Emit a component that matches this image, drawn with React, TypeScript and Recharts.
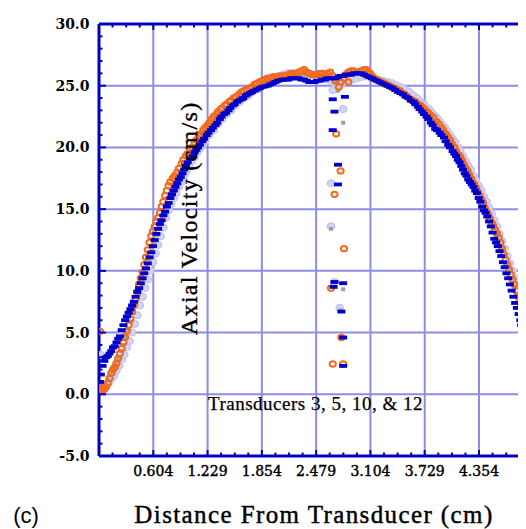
import React from 'react';
import { ScatterChart, Scatter, XAxis, YAxis, CartesianGrid } from 'recharts';

// Axial velocity (cm/s) against distance from transducer (cm), one list per transducer
const blueSeries: [number, number][] = [
  [-0.01, 1.0], [0.00, 1.6], [0.02, 2.3], [0.04, 2.7], [0.06, 3.0], [0.08, 3.1], [0.10, 3.3], [0.12, 3.5],
  [0.14, 3.8], [0.16, 3.9], [0.18, 4.2], [0.20, 4.5], [0.22, 4.7], [0.24, 5.2], [0.26, 5.6], [0.28, 6.0],
  [0.30, 6.3], [0.32, 6.6], [0.34, 6.9], [0.36, 7.2], [0.38, 7.5], [0.40, 7.9], [0.42, 8.3], [0.44, 8.6],
  [0.46, 9.0], [0.48, 9.4], [0.50, 9.8], [0.52, 10.2], [0.54, 10.6], [0.56, 11.1], [0.58, 11.5], [0.60, 12.0],
  [0.62, 12.5], [0.64, 13.0], [0.66, 13.4], [0.68, 13.8], [0.70, 14.1], [0.72, 14.5], [0.74, 14.8], [0.76, 15.2],
  [0.78, 15.5], [0.80, 15.9], [0.82, 16.2], [0.84, 16.5], [0.86, 16.8], [0.88, 17.1], [0.90, 17.4], [0.92, 17.6],
  [0.94, 17.9], [0.96, 18.2], [0.98, 18.5], [1.00, 18.8], [1.03, 19.1], [1.06, 19.3], [1.08, 19.6], [1.10, 19.8],
  [1.12, 20.0], [1.14, 20.2], [1.17, 20.5], [1.19, 20.7], [1.22, 21.0], [1.24, 21.2], [1.27, 21.4], [1.29, 21.6],
  [1.32, 21.8], [1.34, 22.0], [1.37, 22.3], [1.39, 22.5], [1.42, 22.7], [1.44, 22.8], [1.47, 23.0], [1.49, 23.2],
  [1.52, 23.4], [1.54, 23.5], [1.57, 23.7], [1.59, 23.8], [1.62, 23.9], [1.64, 24.0], [1.67, 24.2], [1.69, 24.3],
  [1.72, 24.4], [1.74, 24.5], [1.77, 24.6], [1.80, 24.7], [1.83, 24.8], [1.86, 24.9], [1.89, 24.95], [1.92, 25.0],
  [1.95, 25.1], [1.98, 25.2], [2.01, 25.3], [2.04, 25.4], [2.07, 25.45], [2.10, 25.5], [2.13, 25.5], [2.16, 25.5],
  [2.19, 25.6], [2.22, 25.6], [2.25, 25.6], [2.28, 25.6], [2.31, 25.5], [2.34, 25.5], [2.37, 25.4], [2.40, 25.3],
  [2.43, 25.3], [2.46, 25.3], [2.49, 25.4], [2.52, 25.4], [2.55, 25.5], [2.58, 25.5], [2.61, 25.6], [2.64, 25.6],
  [2.67, 25.6], [2.70, 25.6], [2.73, 25.7], [2.76, 25.8], [2.79, 25.8], [2.82, 25.9], [2.85, 25.9], [2.88, 25.9],
  [2.91, 26.0], [2.94, 26.0], [2.97, 26.0], [3.00, 26.0], [3.03, 25.9], [3.06, 25.8], [3.09, 25.7], [3.12, 25.6],
  [3.15, 25.5], [3.18, 25.4], [3.21, 25.3], [3.24, 25.2], [3.27, 25.1], [3.30, 25.0], [3.33, 24.9], [3.36, 24.8],
  [3.39, 24.65], [3.42, 24.5], [3.45, 24.4], [3.48, 24.3], [3.51, 24.1], [3.54, 24.0], [3.57, 23.8], [3.60, 23.7],
  [3.62, 23.5], [3.65, 23.3], [3.67, 23.1], [3.70, 22.9], [3.72, 22.7], [3.75, 22.5], [3.77, 22.3], [3.80, 22.0],
  [3.82, 21.8], [3.85, 21.5], [3.87, 21.4], [3.90, 21.2], [3.92, 21.0], [3.95, 20.8], [3.97, 20.5], [4.00, 20.2],
  [4.02, 20.0], [4.05, 19.7], [4.07, 19.5], [4.09, 19.3], [4.11, 19.0], [4.13, 18.8], [4.15, 18.5], [4.17, 18.2],
  [4.19, 17.9], [4.21, 17.7], [4.23, 17.4], [4.25, 17.2], [4.27, 17.0], [4.29, 16.8], [4.31, 16.5], [4.33, 16.3],
  [4.35, 15.9], [4.37, 15.6], [4.39, 15.2], [4.41, 14.9], [4.43, 14.7], [4.45, 14.4], [4.47, 14.0], [4.49, 13.6],
  [4.51, 13.1], [4.53, 12.6], [4.55, 12.3], [4.57, 12.0], [4.59, 11.6], [4.61, 11.2], [4.63, 10.7], [4.65, 10.3],
  [4.67, 9.8], [4.69, 9.4], [4.71, 8.9], [4.73, 8.4], [4.75, 7.9], [4.77, 7.4], [4.79, 7.0], [4.81, 6.5],
  [4.83, 6.0], [4.84, 5.6], [4.86, 5.2], [4.87, 4.9], [4.88, 4.4], [4.89, 3.9],
  // stray readings
  [2.67, 23.9], [2.81, 24.1], [2.69, 22.9], [2.67, 21.4], [2.73, 18.6], [2.73, 17.0], [2.69, 9.1], [2.79, 9.0],
  [2.68, 8.7], [2.77, 6.7], [2.79, 4.6], [2.79, 2.3], [4.89, -3.1],
];

const orangeSeries: [number, number][] = [
  [-0.01, 0.6], [0.00, 0.4], [0.02, 0.3], [0.04, 0.4], [0.06, 0.6], [0.08, 0.9], [0.10, 1.3], [0.12, 1.7],
  [0.14, 2.0], [0.16, 2.2], [0.18, 2.5], [0.20, 2.9], [0.22, 3.3], [0.24, 3.7], [0.26, 4.2], [0.28, 4.6],
  [0.30, 5.1], [0.32, 5.6], [0.34, 6.1], [0.36, 6.7], [0.38, 7.2], [0.40, 7.7], [0.42, 8.3], [0.44, 8.9],
  [0.46, 9.4], [0.48, 9.9], [0.50, 10.5], [0.52, 11.1], [0.54, 11.7], [0.56, 12.3], [0.58, 12.8], [0.60, 13.2],
  [0.62, 13.6], [0.64, 14.0], [0.66, 14.3], [0.68, 14.7], [0.70, 15.2], [0.72, 15.6], [0.74, 16.1], [0.76, 16.5],
  [0.78, 16.9], [0.80, 17.2], [0.83, 17.5], [0.85, 17.7], [0.88, 18.0], [0.90, 18.3], [0.93, 18.7], [0.95, 19.0],
  [0.98, 19.3], [1.00, 19.5], [1.03, 19.8], [1.05, 20.0], [1.08, 20.4], [1.10, 20.6], [1.13, 20.9], [1.15, 21.1],
  [1.18, 21.4], [1.20, 21.6], [1.23, 21.8], [1.25, 22.0], [1.28, 22.3], [1.30, 22.5], [1.33, 22.7], [1.35, 22.9],
  [1.38, 23.1], [1.40, 23.2], [1.43, 23.4], [1.45, 23.5], [1.48, 23.7], [1.50, 23.8], [1.53, 24.0], [1.56, 24.1],
  [1.59, 24.3], [1.62, 24.5], [1.65, 24.6], [1.68, 24.7], [1.71, 24.8], [1.74, 24.9], [1.77, 25.1], [1.80, 25.2],
  [1.83, 25.3], [1.86, 25.4], [1.89, 25.5], [1.92, 25.6], [1.95, 25.6], [1.98, 25.7], [2.01, 25.7], [2.04, 25.7],
  [2.07, 25.8], [2.10, 25.8], [2.13, 25.8], [2.16, 25.9], [2.19, 26.0], [2.22, 26.0], [2.25, 26.0], [2.28, 26.1],
  [2.31, 26.2], [2.34, 26.3], [2.37, 26.1], [2.40, 26.0], [2.43, 25.9], [2.46, 25.9], [2.49, 25.9], [2.52, 26.0],
  [2.55, 26.0], [2.58, 25.9], [2.61, 26.0], [2.64, 26.1], [2.67, 25.8], [2.70, 25.4], [2.76, 25.3], [2.80, 25.6],
  [2.82, 25.9], [2.85, 26.1], [2.88, 26.2], [2.91, 26.2], [2.94, 26.1], [2.97, 26.1], [3.00, 26.2], [3.03, 26.3],
  [3.06, 26.3], [3.08, 26.1], [3.10, 26.0], [3.12, 25.8], [3.14, 25.6], [3.17, 25.5], [3.20, 25.4], [3.23, 25.3],
  [3.26, 25.2], [3.29, 25.1], [3.32, 25.0], [3.35, 24.9], [3.38, 24.8], [3.41, 24.7], [3.44, 24.6], [3.47, 24.4],
  [3.50, 24.3], [3.53, 24.1], [3.56, 23.9], [3.59, 23.8], [3.62, 23.7], [3.65, 23.5], [3.68, 23.4], [3.71, 23.2],
  [3.74, 23.0], [3.77, 22.8], [3.80, 22.6], [3.83, 22.4], [3.86, 22.1], [3.89, 21.9], [3.92, 21.6], [3.94, 21.4],
  [3.97, 21.1], [3.99, 20.9], [4.02, 20.6], [4.04, 20.3], [4.07, 20.0], [4.09, 19.7], [4.12, 19.4], [4.14, 19.2],
  [4.16, 18.9], [4.18, 18.6], [4.20, 18.3], [4.22, 18.1], [4.24, 17.8], [4.26, 17.5], [4.28, 17.2], [4.30, 17.0],
  [4.32, 16.7], [4.34, 16.4], [4.36, 16.1], [4.38, 15.8], [4.40, 15.5], [4.42, 15.1], [4.44, 14.8], [4.46, 14.5],
  [4.48, 14.2], [4.50, 13.9], [4.52, 13.6], [4.54, 13.3], [4.56, 13.0], [4.58, 12.7], [4.60, 12.3], [4.62, 11.8],
  [4.64, 11.3], [4.66, 10.9], [4.68, 10.5], [4.70, 10.1], [4.72, 9.7], [4.74, 9.3], [4.76, 8.9], [4.78, 8.4],
  [4.80, 8.0], [4.82, 7.6], [4.84, 7.2], [4.86, 6.8], [4.87, 6.4], [4.88, 5.6], [4.89, 4.7],
  // stray readings
  [-0.01, 5.1], [2.71, 21.1], [2.76, 18.1], [2.69, 16.2], [2.80, 11.8], [2.65, 8.6], [2.77, 4.6], [2.67, 2.45],
  [2.79, 2.45], [4.89, -2.35], [2.74, 24.9], [2.85, 25.3],
];

const graySeries: [number, number][] = [
  [0.02, 0.8], [0.05, 0.9], [0.08, 1.2], [0.11, 1.6], [0.14, 2.1], [0.17, 2.5], [0.20, 2.9], [0.23, 3.5],
  [0.26, 4.0], [0.29, 4.6], [0.32, 5.2], [0.35, 5.9], [0.38, 6.6], [0.41, 7.4], [0.44, 8.1], [0.47, 8.7],
  [0.50, 9.4], [0.53, 10.2], [0.56, 10.9], [0.59, 11.6], [0.62, 12.2], [0.65, 12.9], [0.68, 13.6], [0.71, 14.2],
  [0.74, 14.8], [0.77, 15.4], [0.80, 15.9], [0.83, 16.4], [0.86, 16.9], [0.89, 17.3], [0.92, 17.8], [0.95, 18.1],
  [0.98, 18.5], [1.01, 18.9], [1.04, 19.2], [1.08, 19.7], [1.11, 20.1], [1.14, 20.4], [1.17, 20.7], [1.20, 21.0],
  [1.25, 21.4], [1.30, 21.8], [1.35, 22.2], [1.40, 22.6], [1.45, 23.0], [1.50, 23.3], [1.55, 23.6], [1.60, 23.9],
  [1.65, 24.2], [1.70, 24.4], [1.75, 24.6], [1.80, 24.9], [1.85, 25.1], [1.90, 25.3], [1.95, 25.4], [2.00, 25.5],
  [2.05, 25.6], [2.10, 25.8], [2.15, 25.9], [2.20, 25.9], [2.25, 25.9], [2.30, 25.9], [2.35, 25.9], [2.40, 25.9],
  [2.45, 25.9], [2.50, 25.8], [2.55, 25.8], [2.60, 25.9], [2.65, 25.9], [2.70, 25.3], [2.75, 25.5], [2.80, 25.8],
  [2.85, 25.9], [2.90, 25.9], [2.95, 26.0], [3.00, 26.0], [3.05, 25.9], [3.10, 25.8], [3.15, 25.6], [3.20, 25.5],
  [3.25, 25.3], [3.30, 25.1], [3.35, 24.9], [3.40, 24.75], [3.45, 24.6], [3.50, 24.3], [3.55, 24.0], [3.60, 23.8],
  [3.64, 23.5], [3.68, 23.3], [3.72, 23.0], [3.75, 22.7], [3.78, 22.6], [3.81, 22.4], [3.84, 22.2], [3.87, 21.9],
  [3.90, 21.7], [3.93, 21.4], [3.96, 21.1], [3.99, 20.9], [4.02, 20.6], [4.05, 20.3], [4.08, 19.9], [4.11, 19.6],
  [4.14, 19.2], [4.17, 18.8], [4.20, 18.4], [4.23, 18.0], [4.26, 17.6], [4.29, 17.2], [4.32, 16.8], [4.35, 16.3],
  [4.38, 15.9], [4.41, 15.5], [4.44, 15.0], [4.47, 14.5], [4.50, 14.0], [4.53, 13.6], [4.56, 13.0], [4.59, 12.4],
  [4.62, 11.8], [4.65, 11.2], [4.68, 10.6], [4.71, 10.0], [4.74, 9.4], [4.77, 8.7], [4.80, 8.1], [4.83, 7.3],
  [4.86, 6.6], [4.88, 6.0], [4.89, 5.5],
  // stray readings
  [2.79, 22.0], [2.65, 13.4], [2.79, 8.5], [2.76, 6.8], [2.73, 24.6],
];

const lavenderSeries: [number, number][] = [
  [0.00, 3.2], [0.03, 0.5], [0.06, 0.6], [0.09, 0.9], [0.12, 1.2], [0.15, 1.5], [0.18, 1.9], [0.21, 2.3],
  [0.24, 2.8], [0.27, 3.2], [0.30, 3.8], [0.33, 4.3], [0.36, 5.0], [0.39, 5.7], [0.42, 6.4], [0.45, 7.2],
  [0.48, 7.9], [0.51, 8.6], [0.54, 9.3], [0.57, 10.0], [0.60, 10.7], [0.63, 11.4], [0.66, 12.1], [0.69, 12.8],
  [0.72, 13.5], [0.75, 14.3], [0.78, 14.9], [0.81, 15.4], [0.84, 15.9], [0.87, 16.3], [0.90, 16.8], [0.93, 17.2],
  [0.96, 17.7], [0.99, 18.1], [1.02, 18.5], [1.05, 18.9], [1.08, 19.2], [1.11, 19.6], [1.14, 19.9], [1.17, 20.2],
  [1.20, 20.5], [1.25, 21.0], [1.30, 21.4], [1.35, 21.9], [1.40, 22.3], [1.45, 22.7], [1.50, 23.0], [1.55, 23.4],
  [1.60, 23.7], [1.65, 24.0], [1.70, 24.2], [1.75, 24.5], [1.80, 24.7], [1.85, 25.0], [1.90, 25.2], [1.95, 25.4],
  [2.00, 25.7], [2.05, 25.8], [2.10, 25.9], [2.15, 26.0], [2.20, 26.0], [2.25, 26.0], [2.30, 26.0], [2.35, 25.9],
  [2.40, 25.9], [2.45, 25.8], [2.50, 25.7], [2.55, 25.6], [2.60, 25.5], [2.65, 25.4], [2.70, 24.9], [2.75, 25.1],
  [2.80, 25.3], [2.85, 25.5], [2.90, 25.5], [2.95, 25.6], [3.00, 25.7], [3.05, 25.8], [3.10, 25.7], [3.15, 25.6],
  [3.20, 25.5], [3.25, 25.4], [3.30, 25.3], [3.35, 25.2], [3.40, 25.05], [3.45, 24.9], [3.50, 24.7], [3.55, 24.5],
  [3.60, 24.2], [3.64, 24.0], [3.68, 23.7], [3.72, 23.5], [3.75, 23.2], [3.78, 23.1], [3.81, 22.8], [3.84, 22.6],
  [3.87, 22.4], [3.90, 22.1], [3.93, 21.8], [3.96, 21.6], [3.99, 21.3], [4.02, 21.0], [4.05, 20.7], [4.08, 20.4],
  [4.11, 20.0], [4.14, 19.7], [4.17, 19.3], [4.20, 18.9], [4.23, 18.5], [4.26, 18.2], [4.29, 17.7], [4.32, 17.3],
  [4.35, 16.9], [4.38, 16.5], [4.41, 16.0], [4.44, 15.6], [4.47, 15.1], [4.50, 14.6], [4.53, 14.1], [4.56, 13.6],
  [4.59, 13.0], [4.62, 12.4], [4.65, 11.8], [4.68, 11.2], [4.71, 10.6], [4.74, 10.0], [4.77, 9.4], [4.80, 8.8],
  [4.83, 8.0], [4.86, 7.3], [4.88, 6.8], [4.89, 6.2],
  // stray readings
  [2.79, 23.1], [2.65, 17.1], [2.65, 13.6], [2.69, 9.1], [2.75, 7.0], [4.89, -0.9], [2.67, 24.65],
];

const xMajorTicks = [0.604, 1.229, 1.854, 2.479, 3.104, 3.729, 4.354];
const xMinorTicks = [
  0.135, 0.292, 0.448, 0.760, 0.917, 1.073, 1.385, 1.542, 1.698, 2.010, 2.167, 2.323,
  2.635, 2.792, 2.948, 3.260, 3.417, 3.573, 3.885, 4.042, 4.198, 4.510, 4.667, 4.823,
];
const yMajorTicks = [-5, 0, 5, 10, 15, 20, 25, 30];
const yMinorTicks = [
  -4, -3, -2, -1, 1, 2, 3, 4, 6, 7, 8, 9, 11, 12, 13, 14, 16, 17, 18, 19, 21, 22, 23, 24, 26, 27, 28, 29,
];

const AXIS_BLUE = '#0000c0';
const GRID_BLUE = '#8c8ce8';
const SERIF = '"Liberation Serif", "Times New Roman", serif';
const TICK_SERIF = '"DejaVu Serif", serif';

const toPoints = (list: [number, number][]) => list.map(([x, y]) => ({ x, y }));

const BottomTick = (props: any) => {
  const { x, y, payload } = props;
  const major = xMajorTicks.includes(payload.value);
  return (
    <g>
      <line x1={x} x2={x} y1={y} y2={y - (major ? 6 : 3.5)} stroke={AXIS_BLUE} strokeWidth={2} />
      {major && (
        <text x={x} y={y + 19.5} textAnchor="middle" fontFamily={TICK_SERIF} fontSize={14}
          fill="#000" stroke="#000" strokeWidth={0.45}>
          {payload.value.toFixed(3)}
        </text>
      )}
    </g>
  );
};

const TopTick = (props: any) => {
  const { x, y, payload } = props;
  const major = xMajorTicks.includes(payload.value);
  return <line x1={x} x2={x} y1={y} y2={y + (major ? 6 : 3.5)} stroke={AXIS_BLUE} strokeWidth={2} />;
};

const LeftTick = (props: any) => {
  const { x, y, payload } = props;
  const major = yMajorTicks.includes(payload.value);
  return (
    <g>
      <line x1={x} x2={x + (major ? 7 : 3.5)} y1={y} y2={y} stroke={AXIS_BLUE} strokeWidth={2} />
      {major && (
        <text x={x - 9.5} y={y + 5} textAnchor="end" fontFamily={TICK_SERIF} fontWeight="bold" fontSize={14} fill="#000">
          {payload.value.toFixed(1)}
        </text>
      )}
    </g>
  );
};

const BlueDash = (p: any) => <rect x={p.cx - 4} y={p.cy - 1.9} width={8} height={3.8} fill="#0000cc" />;
const OrangeRing = (p: any) => (
  <ellipse cx={p.cx} cy={p.cy} rx={3.1} ry={2.7} fill="none" stroke="#f26b1d" strokeWidth={2} />
);
const GraySquare = (p: any) => <rect x={p.cx - 2} y={p.cy - 2} width={4} height={4} fill="#a0a0a0" />;
const LavenderDot = (p: any) => (
  <ellipse cx={p.cx} cy={p.cy} rx={3.6} ry={3.3} fill="#d4d4f5" stroke="#c4c4f0" strokeWidth={1.5} />
);

const App: React.FC = () => {
  const xTicks = [...xMajorTicks, ...xMinorTicks].sort((a, b) => a - b);
  const yTicks = [...yMajorTicks, ...yMinorTicks].sort((a, b) => a - b);
  const xDomain: [number, number] = [-0.021, 4.895];

  return (
    <div style={{ position: 'relative', width: 518, height: 521, overflow: 'hidden' }}>
      <style>{'html, body { overflow: hidden; }'}</style>
      <ScatterChart width={518} height={480} margin={{ top: 6, right: 0, bottom: 0, left: 0 }}>
        <CartesianGrid
          stroke={GRID_BLUE}
          strokeWidth={2}
          verticalValues={xMajorTicks}
          horizontalValues={yMajorTicks}
        />
        <XAxis
          xAxisId="top"
          orientation="top"
          type="number"
          dataKey="x"
          domain={xDomain}
          allowDataOverflow
          ticks={xTicks}
          interval={0}
          height={10}
          tickSize={0}
          tickMargin={0}
          tickLine={false}
          axisLine={{ stroke: AXIS_BLUE, strokeWidth: 3 }}
          tick={(p: any) => <TopTick {...p} />}
        />
        <XAxis
          type="number"
          dataKey="x"
          domain={xDomain}
          allowDataOverflow
          ticks={xTicks}
          interval={0}
          height={32}
          tickSize={0}
          tickMargin={0}
          tickLine={false}
          axisLine={{ stroke: AXIS_BLUE, strokeWidth: 3 }}
          tick={(p: any) => <BottomTick {...p} />}
        />
        <YAxis
          type="number"
          dataKey="y"
          domain={[-5, 30]}
          allowDataOverflow
          ticks={yTicks}
          interval={0}
          width={91}
          tickSize={0}
          tickMargin={0}
          tickLine={false}
          axisLine={{ stroke: AXIS_BLUE, strokeWidth: 3 }}
          tick={(p: any) => <LeftTick {...p} />}
        />
        <Scatter data={toPoints(lavenderSeries)} shape={LavenderDot} isAnimationActive={false} />
        <Scatter data={toPoints(graySeries)} shape={GraySquare} isAnimationActive={false} />
        <Scatter data={toPoints(orangeSeries)} shape={OrangeRing} isAnimationActive={false} />
        <Scatter data={toPoints(blueSeries)} shape={BlueDash} isAnimationActive={false} />
      </ScatterChart>
      <svg
        width={518}
        height={521}
        style={{ position: 'absolute', left: 0, top: 0, pointerEvents: 'none' }}
      >
        <text
          transform="translate(188.7, 210.3) rotate(-90)"
          textAnchor="middle"
          fontFamily={SERIF}
          fontSize={24}
          letterSpacing={1.3}
          fill="#000"
          stroke="#000"
          strokeWidth={0.4}
        >
          Axial Velocity (cm/s)
        </text>
        <text x={200} y={402} fontFamily={SERIF} fontSize={19} letterSpacing={0.5} fill="#000"
          stroke="#000" strokeWidth={0.25}>
          Transducers 3, 5, 10, &amp; 12
        </text>
        <text x={5.3} y={515} fontFamily='"Liberation Sans", Arial, sans-serif' fontSize={22} fill="#000">
          (c)
        </text>
        <text x={306} y={515.3} textAnchor="middle" fontFamily={SERIF} fontSize={25} letterSpacing={1.4}
          fill="#000" stroke="#000" strokeWidth={0.45}>
          Distance From Transducer (cm)
        </text>
      </svg>
    </div>
  );
};

export default App;
